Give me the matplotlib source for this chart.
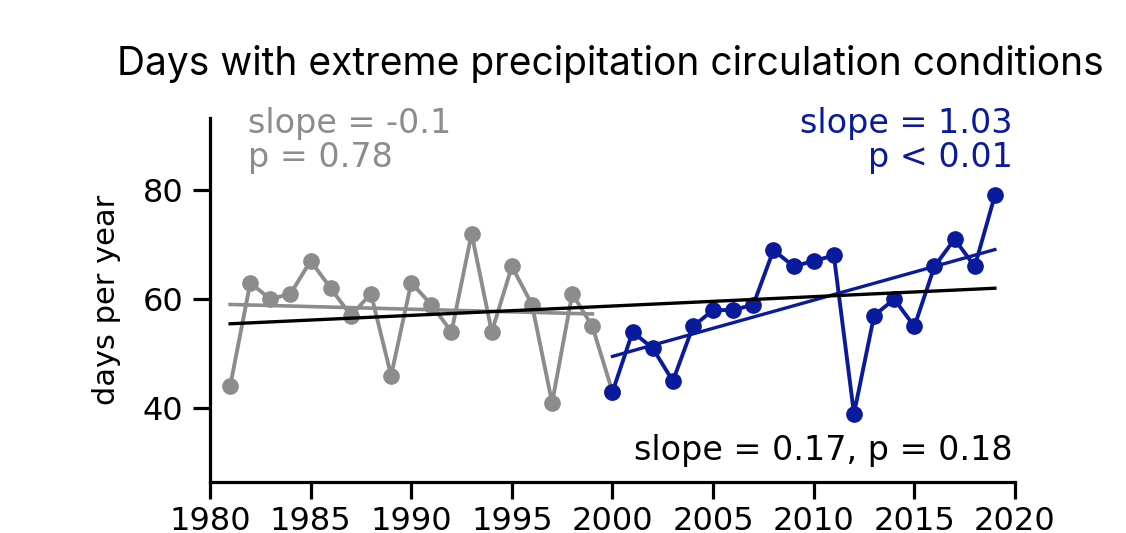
import numpy as np
import matplotlib
matplotlib.use("Agg")
from matplotlib import pyplot as plt

# data
years_early = np.arange(1981, 2001)
days_early = [44, 63, 60, 61, 67, 62, 57, 61, 46, 63, 59, 54, 72, 54, 66, 59, 41, 61, 55, 43]
years_late = np.arange(2000, 2020)
days_late = [43, 54, 51, 45, 55, 58, 58, 59, 69, 66, 67, 68, 39, 57, 60, 55, 66, 71, 66, 79]

grey = '#8c8c8c'
blue = '#0a1a9c'

fig = plt.figure(figsize=(11.26, 5.33), dpi=100)
ax = fig.add_axes([0.1865, 0.0957, 0.7149, 0.683])

ax.plot(years_early, days_early, '-o', color=grey, lw=2.8, ms=11)
ax.plot(years_late, days_late, '-o', color=blue, lw=2.8, ms=11)

# trend lines
ye = years_early[:-1]; de = np.array(days_early[:-1])
k, b = np.polyfit(ye, de, 1)
ax.plot(ye, k * ye + b, color=grey, lw=2.6)

k, b = np.polyfit(years_late, days_late, 1)
ax.plot(years_late, k * years_late + b, color=blue, lw=2.4)

ya = np.concatenate([ye, years_late])
da = np.concatenate([de, days_late])
k, b = np.polyfit(ya, da, 1)
ax.plot(ya, k * ya + b, color='black', lw=2.4)

ax.set_xlim(1980, 2020)
ax.set_ylim(26.5, 93.2)
ax.set_xticks(range(1980, 2021, 5))
ax.set_yticks([40, 60, 80])
ax.spines['top'].set_visible(False)
ax.spines['right'].set_visible(False)
ax.spines['left'].set_linewidth(2.3)
ax.spines['bottom'].set_linewidth(2.3)
ax.tick_params(width=2.3, length=12, labelsize=23, pad=5)
ax.tick_params(axis='y', pad=7)
ax.set_ylabel('days per year', fontsize=22, labelpad=16)

ax.text(0.047, 1.03, 'slope = -0.1\np = 0.78', transform=ax.transAxes, color=grey,
        fontsize=24, va='top', ha='left', linespacing=1.02)
ax.text(0.997, 1.03, 'slope = 1.03\np < 0.01', transform=ax.transAxes, color=blue,
        fontsize=24, va='top', ha='right', linespacing=1.02)
ax.text(0.997, 0.04, 'slope = 0.17, p = 0.18', transform=ax.transAxes, color='black',
        fontsize=24, va='bottom', ha='right')

fig.text(0.5417, 0.88, 'Days with extreme precipitation circulation conditions',
         family=['Inter', 'DejaVu Sans'], fontsize=28, ha='center', va='center')

fig.savefig('out.png')
